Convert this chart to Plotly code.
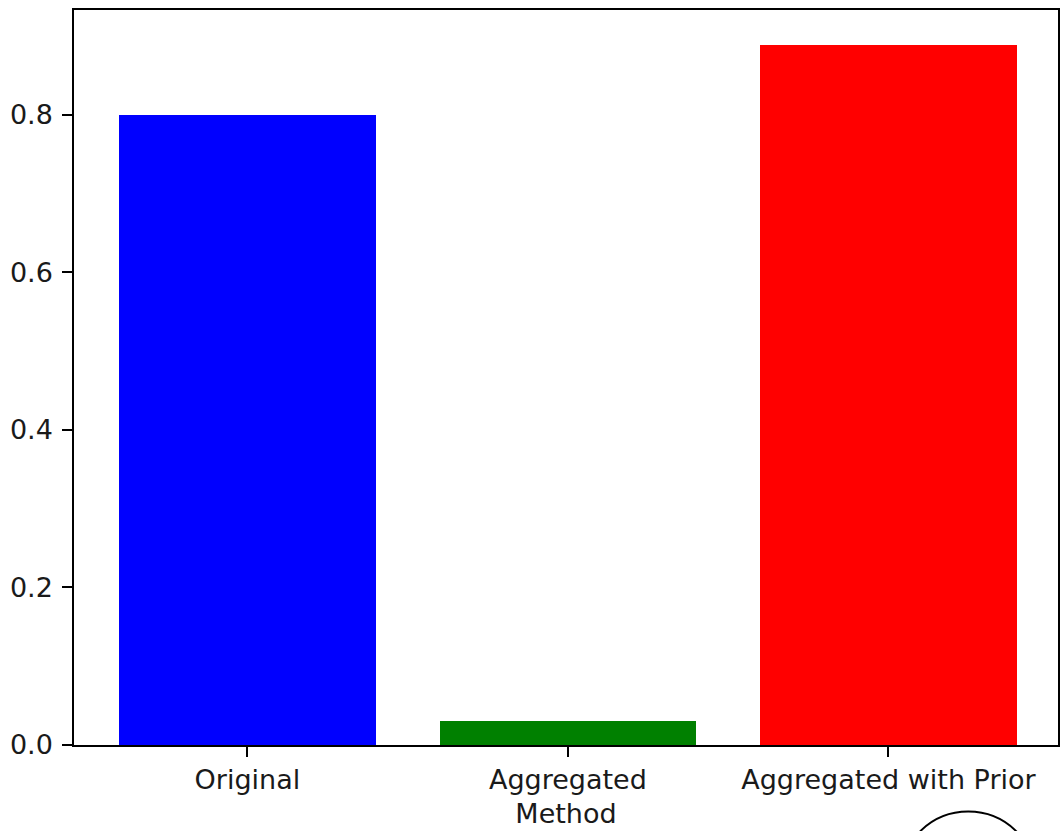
import plotly.graph_objects as go

categories = ["Original", "Aggregated", "Aggregated with Prior"]
values = [0.8, 0.03, 0.889]
colors = ["#0000ff", "#008000", "#ff0000"]
y_ticks = [0.0, 0.2, 0.4, 0.6, 0.8]
y_tick_labels = ["0.0", "0.2", "0.4", "0.6", "0.8"]

FONT = "DejaVu Sans"

fig = go.Figure(go.Bar(
    x=list(range(len(categories))), y=values,
    marker=dict(color=colors, line=dict(width=0)),
    width=0.8,
))

fig.update_layout(
    width=1061, height=831,
    margin=dict(l=74, r=3, t=10, b=86),
    plot_bgcolor="white", paper_bgcolor="white",
    font=dict(family=FONT, size=27, color="#1a1a1a"),
    showlegend=False,
    bargap=0,
)
fig.update_xaxes(
    range=[-0.541, 2.529],
    tickmode="array", tickvals=list(range(len(categories))), ticktext=categories,
    ticks="outside", ticklen=10, tickwidth=1.5, tickcolor="black",
    showline=True, linecolor="black", linewidth=1.5, mirror=True,
    showgrid=False, zeroline=False, automargin=False,
    title=dict(text="Method", standoff=10, font=dict(size=27)),
)
fig.update_yaxes(
    range=[0, 0.9333],
    tickmode="array", tickvals=y_ticks, ticktext=y_tick_labels,
    ticks="outside", ticklen=10, tickwidth=1.5, tickcolor="black",
    showline=True, linecolor="black", linewidth=1.5, mirror=True,
    showgrid=False, zeroline=False, automargin=False,
    ticklabelstandoff=4,
)
fig.add_shape(type="circle", xref="paper", yref="paper",
              x0=0.841, x1=0.9766, y0=-0.266, y1=-0.0905,
              line=dict(color="black", width=2))

fig.write_html(
    "out.html",
    config={"displayModeBar": False},
    post_script="document.body.style.margin='0';document.body.style.overflow='hidden';",
)
